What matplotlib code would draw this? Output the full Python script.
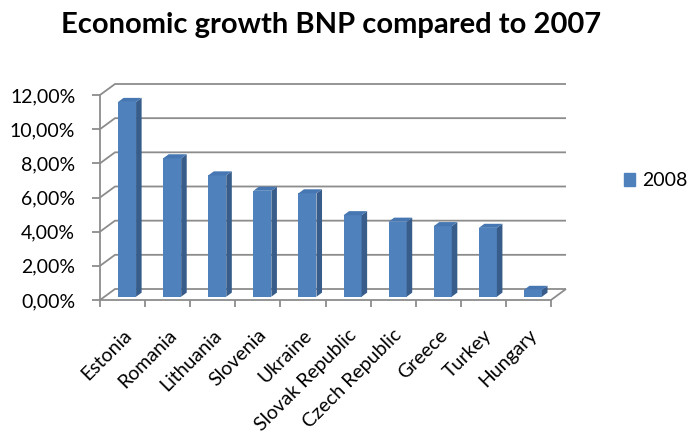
import matplotlib
matplotlib.use("Agg")
import matplotlib.pyplot as plt
from matplotlib.patches import Polygon, Patch

# ---- data -------------------------------------------------------------
countries = ["Estonia", "Romania", "Lithuania", "Slovenia", "Ukraine",
             "Slovak Republic", "Czech Republic", "Greece", "Turkey", "Hungary"]
growth_2008 = [11.4, 8.1, 7.1, 6.2, 6.05, 4.77, 4.39, 4.13, 4.03, 0.4]
series_name = "2008"
y_ticks = [0, 2, 4, 6, 8, 10, 12]
y_tick_labels = ["0,00%", "2,00%", "4,00%", "6,00%", "8,00%", "10,00%", "12,00%"]
title = "Economic growth BNP compared to 2007"

# ---- styling ----------------------------------------------------------
FONT = "Lato"
LABEL_SIZE = 14
front_c = "#4F81BD"
side_c = "#385D8A"
top_c = "#4777B2"
grid_c = "#8C8C8C"

W, H = 688, 432
fig = plt.figure(figsize=(W / 100, H / 100), dpi=100)
ax = fig.add_axes([100 / W, 132 / H, 451 / W, 205 / H])
n = len(countries)
x0, x1 = -0.5, n - 0.5
ax.set_xlim(x0, x1)
ax.set_ylim(y_ticks[0], y_ticks[-1])

# depth of the pseudo-3D box, expressed in data units
px_per_cat = 451 / n
px_per_pct = 205 / (y_ticks[-1] - y_ticks[0])
DX, DY = 15 / px_per_cat, 11 / px_per_pct

grid_kw = dict(color=grid_c, lw=1.3, solid_capstyle="butt", clip_on=False, zorder=1)
# back wall gridlines with the left-wall diagonals
for v in y_ticks:
    ax.plot([x0, x0 + DX, x1 + DX], [v, v + DY, v + DY], **grid_kw)
# floor: right edge
ax.plot([x1, x1 + DX], [0, DY], **grid_kw)

# ---- bars ---------------------------------------------------------------
f0, f1 = 0.30, 0.67          # front / back depth of the columns
bw = 0.40
ox, oy = f0 * DX, f0 * DY
ddx, ddy = (f1 - f0) * DX, (f1 - f0) * DY
xpos = list(range(n))
ax.bar([x + ox for x in xpos], growth_2008, width=bw, bottom=oy,
       color=front_c, zorder=3, clip_on=False, label=series_name)
for x, v in zip(xpos, growth_2008):
    xl = x + ox - bw / 2
    xr = xl + bw
    yb, yt = oy, oy + v
    ax.add_patch(Polygon([(xr, yb), (xr + ddx, yb + ddy), (xr + ddx, yt + ddy), (xr, yt)],
                         closed=True, fc=side_c, ec="none", zorder=3, clip_on=False))
    ax.add_patch(Polygon([(xl, yt), (xr, yt), (xr + ddx, yt + ddy), (xl + ddx, yt + ddy)],
                         closed=True, fc=top_c, ec="none", zorder=3, clip_on=False))

# ---- axes -----------------------------------------------------------------
for s in ("top", "right"):
    ax.spines[s].set_visible(False)
for s in ("left", "bottom"):
    ax.spines[s].set_color(grid_c)
    ax.spines[s].set_linewidth(1.3)
    ax.spines[s].set_zorder(1)

ax.set_yticks(y_ticks, y_tick_labels)
ax.tick_params(axis="y", length=5.8, width=1.3, color=grid_c, pad=12,
               labelsize=LABEL_SIZE, labelcolor="black")
ax.set_xticks([x0 + i for i in range(n + 1)])
ax.set_xticklabels([])
ax.tick_params(axis="x", which="major", length=5, width=1.3, color=grid_c)
ax.set_xticks(xpos, minor=True)
ax.set_xticklabels(countries, minor=True, rotation=45, ha="right", va="top",
                   rotation_mode="anchor")
ax.tick_params(axis="x", which="minor", length=0, pad=19, labelsize=LABEL_SIZE)
for lab in ax.get_yticklabels() + ax.get_xticklabels(minor=True):
    lab.set_fontfamily(FONT)
ax.set_facecolor("none")

fig.text(331 / W, 1 - 25 / H, title, ha="center", va="center",
         fontsize=21, fontweight="bold", fontfamily=FONT)

fig.legend(handles=[Patch(color=front_c)], labels=[series_name],
           loc="center left", bbox_to_anchor=(606 / W, 1 - 181 / H),
           frameon=False, handlelength=0.6, handleheight=0.6, handletextpad=0.35,
           prop=dict(family=FONT, size=LABEL_SIZE))

fig.savefig("out.png", dpi=100)
